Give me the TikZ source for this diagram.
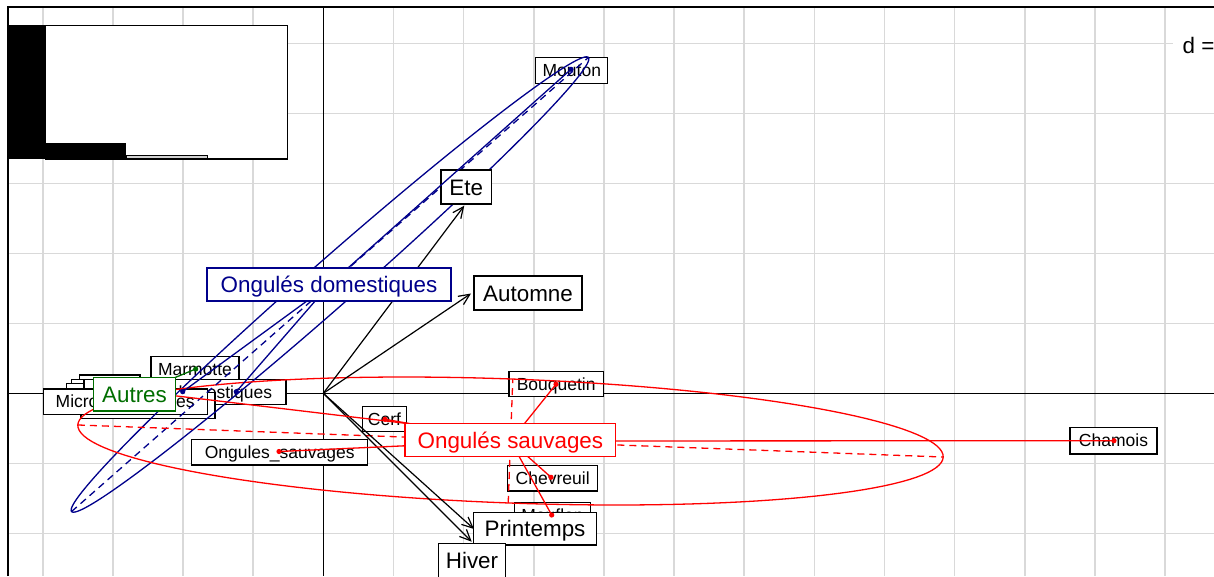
\documentclass[tikz,border=0pt]{standalone}
\usepackage{fontspec}
\setmainfont{Liberation Sans}
\usetikzlibrary{arrows.meta}
\definecolor{gridc}{RGB}{217,217,217}
\definecolor{domc}{RGB}{0,0,139}
\definecolor{sauvc}{RGB}{255,0,0}
\definecolor{autc}{RGB}{0,110,0}
\begin{document}
\begin{tikzpicture}[x=1pt,y=-1pt,
  gridline/.style={draw=gridc,line width=1.6pt},
  axisline/.style={draw=black,line width=1.3pt},
  lab/.style={draw=black,fill=white,line width=1.2pt,inner sep=0pt,
    text height=12.5pt,text depth=0pt,font=\fontsize{17.5}{20}\selectfont},
  emptybox/.style={draw=black,fill=white,line width=1.2pt,inner sep=0pt},
  biglab/.style={lab,text height=16pt,font=\fontsize{22.4}{26}\selectfont},
  grplab/.style={biglab,draw=#1,text=#1},
  seasonarrow/.style={draw=black,line width=1.2pt,-{Straight Barb[length=11pt,width=10pt]}},
  starline/.style={draw=#1,line width=1.3pt},
  ellline/.style={draw=#1,line width=1.3pt},
  axdash/.style={draw=#1,line width=1.3pt,dash pattern=on 7pt off 5pt},
  ptdot/.style={fill=#1}
]
\useasboundingbox (0,0) rectangle (1214,576);
\fill[white] (0,0) rectangle (1214,576);

% grid
\foreach \i in {-4,...,12}{
  \draw[gridline] ({323.3+70.15*\i},6.7) -- ({323.3+70.15*\i},576);
}
\foreach \j in {-5,...,2}{
  \draw[gridline] (8.3,{393.3+70*\j}) -- (1214,{393.3+70*\j});
}
% axes
\draw[axisline] (8.3,393.3) -- (1214,393.3);
\draw[axisline] (323.3,6.7) -- (323.3,576);
% frame
\draw[black,line width=2pt] (8.3,576) -- (8.3,6.7) -- (1214,6.7);

% eigenvalue inset
\draw[black,line width=1.2pt,fill=white] (45.3,25.3) rectangle (287.7,159);
\fill[black] (8.3,25.3) rectangle (45.3,159.3);
\fill[black] (8.3,142.7) rectangle (126,159.3);
\draw[black,line width=0.8pt,fill=gray!35] (126,155.6) rectangle (207.3,158.7);

% d = label
\node[anchor=west,fill=white,inner xsep=9.5pt,inner ysep=3pt,font=\fontsize{22.4}{26}\selectfont] (dlab) at (1173,45) {d =};

% species labels
\node[emptybox,minimum width=60.7pt,minimum height=25pt] (b1) at (109.65,387.5) {};
\node[emptybox,minimum width=78.3pt,minimum height=25pt] (b2) at (110.85,391.8) {};
\node[emptybox,minimum width=93.3pt,minimum height=25pt] (b3) at (113.35,395.8) {};
\node[lab,minimum width=88pt,minimum height=25pt] (mar) at (195,369.1) {Marmotte};
\node[lab,minimum width=202pt,minimum height=25pt] (odo) at (185,391.8) {Ongules\_domestiques};
\node[emptybox,minimum width=134pt,minimum height=26pt] (lb) at (148,405.5) {};
\node[lab,minimum width=164pt,minimum height=25.5pt] (micro) at (125.2,401.7) {Micromammifères};
\node[lab,minimum width=176pt,minimum height=25.7pt] (osa) at (279.7,452.2) {Ongules\_sauvages};
\node[lab,minimum width=44.4pt,minimum height=25pt] (cerf) at (384.5,419.2) {Cerf};
\node[lab,minimum width=94.3pt,minimum height=25pt] (bouq) at (556.2,384.2) {Bouquetin};
\node[lab,minimum width=90pt,minimum height=25.3pt] (chev) at (552.7,478.3) {Chevreuil};
\node[lab,minimum width=76.4pt,minimum height=25.3pt] (mouf) at (552.5,515) {Mouflon};
\node[lab,minimum width=87pt,minimum height=26.7pt] (cham) at (1113.5,440.7) {Chamois};
\node[lab,minimum width=72pt,minimum height=26pt] (mou) at (571.8,70.3) {Mouton};

% class geometry coordinates
\coordinate (cdom) at (329.5,284.5);
\coordinate (csau) at (510.5,441);
\coordinate (caut) at (134.5,394.3);
\coordinate (dMou) at (571,69.3);
\coordinate (dOdo) at (182.7,391.7);
\coordinate (dOdoB) at (236.3,391.7);
\coordinate (dBou) at (556,384.3);
\coordinate (dCerf) at (385,419.3);
\coordinate (dChev) at (551,477.3);
\coordinate (dMouf) at (551.7,515);
\coordinate (dCham) at (1114,440.7);
\coordinate (dOsa) at (279,451.5);
\coordinate (dMar) at (195.7,369);
\coordinate (rP) at (140,391.6);
\coordinate (rQ) at (470,431);
\coordinate (bA1) at (71.55,511.54);
\coordinate (bA2) at (588.45,57.46);
\coordinate (bB1) at (345.18,301.78);
\coordinate (bB2) at (314.82,267.22);
\coordinate (rA1) at (77.8,424.98);
\coordinate (rA2) at (943.2,457.02);
\coordinate (rB1) at (508.21,502.96);
\coordinate (rB2) at (512.79,379.04);

% ellipses
\draw[ellline=domc] plot[domain=0:360,samples=145,variable=\t]
  ({330+258.45*cos(\t)+15.18*sin(\t)},{284.5-227.04*cos(\t)+17.28*sin(\t)}) -- cycle;
\draw[ellline=sauvc] plot[domain=0:360,samples=145,variable=\t]
  ({510.5+432.7*cos(\t)-2.29*sin(\t)},{441+16.02*cos(\t)+61.96*sin(\t)}) -- cycle;
\draw[axdash=domc] (bA1) -- (bA2);
\draw[axdash=domc] (bB1) -- (bB2);
\draw[axdash=sauvc] (rA1) -- (rA2);
\draw[axdash=sauvc] (rB1) -- (rB2);

% season arrows and labels
\coordinate (O) at (323.3,393.3);
\coordinate (tEte) at (464.3,205.7);
\coordinate (tAut) at (471,293.5);
\coordinate (tPri) at (474,529);
\coordinate (tHiv) at (471.7,541.7);
\draw[seasonarrow] (O) -- (tEte);
\draw[seasonarrow] (O) -- (tAut);
\draw[seasonarrow] (O) -- (tPri);
\draw[seasonarrow] (O) -- (tHiv);
\node[biglab,minimum width=50.3pt,minimum height=34pt] (ete) at (466.2,187) {Ete};
\node[biglab,minimum width=108pt,minimum height=34pt] (aut) at (528,293) {Automne};
\node[biglab,minimum width=123.4pt,minimum height=32.7pt] (prin) at (535,528.7) {Printemps};
\node[biglab,minimum width=67.4pt,minimum height=34pt] (hiv) at (472,560.2) {Hiver};

% stars
\draw[starline=domc] (cdom) -- (dMou);
\draw[starline=domc] (cdom) -- (dOdo);
\draw[starline=domc] (cdom) -- (dOdoB);
\draw[starline=sauvc] (csau) -- (dBou);
\draw[starline=sauvc] (csau) -- (dCerf);
\draw[starline=sauvc] (csau) -- (dChev);
\draw[starline=sauvc] (csau) -- (dMouf);
\draw[starline=sauvc] (csau) -- (dCham);
\draw[starline=sauvc] (csau) -- (dOsa);
\draw[starline=sauvc] (rP) -- (rQ);
\draw[starline=autc] (caut) -- (dMar);

% dots
\foreach \p in {dMou,dOdo,dOdoB}{\fill[ptdot=domc] (\p) circle (2.6);}
\foreach \p in {dBou,dCerf,dChev,dMouf,dCham,dOsa}{\fill[ptdot=sauvc] (\p) circle (2.6);}
\fill[ptdot=autc] (dMar) circle (2.6);

% group labels
\node[grplab=domc,minimum width=244pt,minimum height=33pt] (gdom) at (329,284.5) {Ongulés domestiques};
\node[grplab=sauvc,minimum width=210.7pt,minimum height=33.4pt] (gsau) at (510.4,440) {Ongulés sauvages};
\node[grplab=autc,minimum width=82.4pt,minimum height=33.3pt] (gaut) at (134.5,394.3) {Autres};
\end{tikzpicture}
\end{document}
